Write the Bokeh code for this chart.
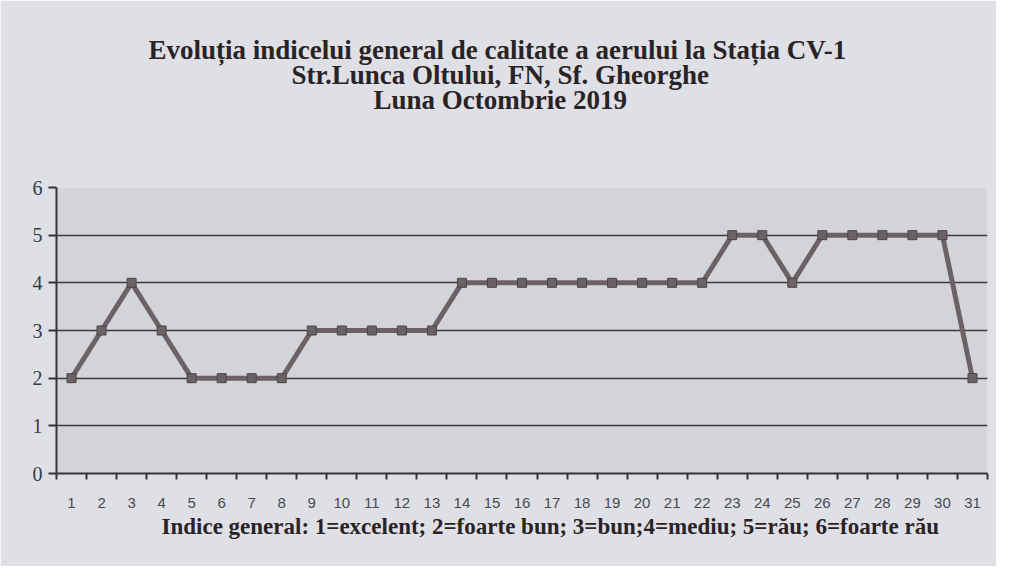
from bokeh.plotting import figure
from bokeh.models import FixedTicker, Range1d, Title
from bokeh.embed import file_html
from bokeh.resources import INLINE

days = list(range(1, 32))
values = [2, 3, 4, 3, 2, 2, 2, 2, 3, 3, 3, 3, 3, 4, 4, 4, 4, 4, 4, 4, 4, 4,
          5, 5, 4, 5, 5, 5, 5, 5, 2]
y_ticks = [0, 1, 2, 3, 4, 5, 6]
title_lines = ["Evoluția indicelui general de calitate a aerului la Stația CV-1",
               "Str.Lunca Oltului, FN, Sf. Gheorghe",
               "Luna Octombrie 2019"]
x_label = "Indice general: 1=excelent; 2=foarte bun; 3=bun;4=mediu; 5=rău; 6=foarte rău"

W, H = 996, 566
FL, FT, FB = 56, 187, 473  # frame left / top / bottom in figure pixels
p = figure(width=W, height=H, output_backend="svg", toolbar_location=None,
           x_range=Range1d(0.5, 31.5), y_range=Range1d(0, 6),
           min_border_left=FL, min_border_right=9, min_border_top=FT,
           min_border_bottom=H - FB)
p.border_fill_color = "#dfe0e5"
p.background_fill_color = "#d3d4d9"
p.outline_line_color = None

p.xaxis.ticker = FixedTicker(ticks=days, minor_ticks=[d + 0.5 for d in range(0, 32)])
p.xaxis.major_tick_line_color = None
p.xaxis.minor_tick_out = 6
p.xaxis.minor_tick_in = 0
p.xaxis.minor_tick_line_color = "#3a3336"
p.xaxis.minor_tick_line_width = 2
p.xaxis.axis_line_color = "#3a3336"
p.xaxis.axis_line_width = 2
p.xaxis.major_label_text_font = "Liberation Sans"
p.xaxis.major_label_text_font_size = "15px"
p.xaxis.major_label_text_color = "#4a4a4e"
p.xaxis.major_label_standoff = 18

p.yaxis.ticker = FixedTicker(ticks=y_ticks)
p.yaxis.minor_tick_line_color = None
p.yaxis.major_tick_out = 8
p.yaxis.major_tick_in = 0
p.yaxis.major_tick_line_color = "#3a3336"
p.yaxis.major_tick_line_width = 2
p.yaxis.axis_line_color = "#3a3336"
p.yaxis.axis_line_width = 2
p.yaxis.major_label_text_font = "Liberation Serif"
p.yaxis.major_label_text_font_size = "20px"
p.yaxis.major_label_text_color = "#3a3a3e"
p.yaxis.major_label_standoff = 6

p.xgrid.grid_line_color = None
p.ygrid.grid_line_color = "#3f393c"
p.ygrid.grid_line_width = 1.5

p.line(days, values, line_color="#6b6266", line_width=5)
p.scatter(days, values, marker="square", size=9, fill_color="#6b6266",
          line_color="#4c4447", line_width=1)

title_style = dict(align="left", text_font="Liberation Serif", text_font_style="bold",
                   text_font_size="27px", text_color="#2a2326")
# spacer between the title block and the plot area
p.add_layout(Title(text=" ", align="left", text_font_size="66px", standoff=0), "above")
title_offsets = [92, 235, 317]
for t, off in reversed(list(zip(title_lines, title_offsets))):
    p.add_layout(Title(text=t, offset=off, standoff=-7, **title_style), "above")

p.add_layout(Title(text=x_label, align="left", offset=105, standoff=2,
                   text_font="Liberation Serif", text_font_style="bold",
                   text_font_size="23px", text_color="#2a2326"), "below")

open("out.html", "w").write(file_html(p, INLINE))
